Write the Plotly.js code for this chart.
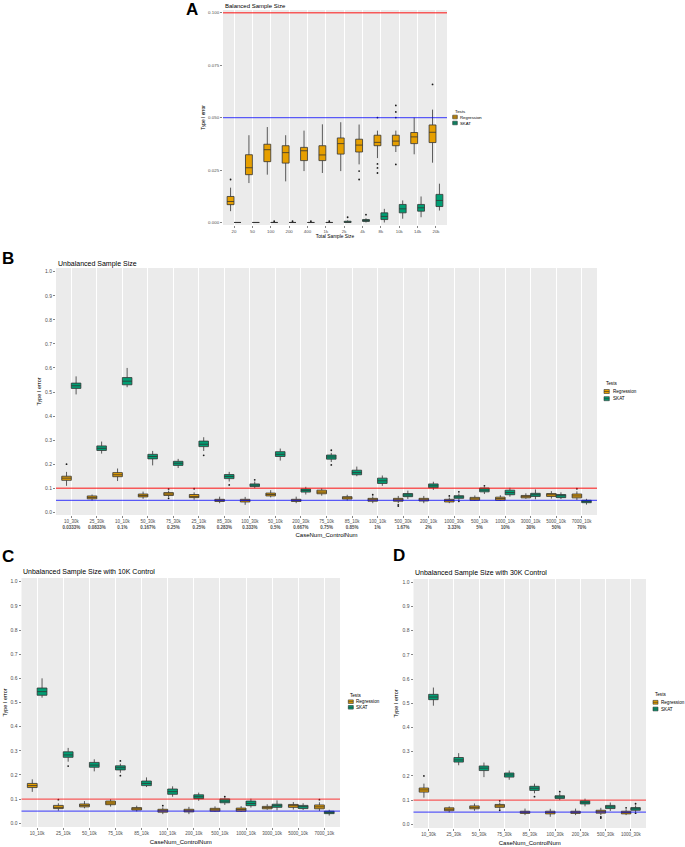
<!DOCTYPE html>
<html><head><meta charset="utf-8">
<script src="https://cdn.plot.ly/plotly-3.0.1.min.js"></script>
<style>html,body{margin:0;padding:0;background:#fff}</style>
</head><body><div id="chart" style="width:685px;height:847px"></div>
<script>
// ---------------- DATA ----------------
// Panel A: Balanced sample size
const aCats = ['20','50','100','200','400','1k','2k','4k','8k','10k','14k','20k'];
const aRegQ1  = [0.0085,0.0228,0.0290,0.0283,0.0295,0.0295,0.0326,0.0336,0.0366,0.0366,0.0376,0.0381];
const aRegMed = [0.0100,0.0261,0.0347,0.0333,0.0342,0.0322,0.0376,0.0369,0.0382,0.0388,0.0408,0.0430];
const aRegQ3  = [0.0124,0.0323,0.0373,0.0366,0.0358,0.0366,0.0403,0.0397,0.0416,0.0416,0.0429,0.0465];
const aRegLo  = [0.0054,0.0188,0.0228,0.0196,0.0245,0.0236,0.0245,0.0277,0.0307,0.0336,0.0325,0.0285];
const aRegHi  = [0.0166,0.0416,0.0455,0.0416,0.0438,0.0468,0.0478,0.0467,0.0438,0.0438,0.0500,0.0538];
const aRegOut = [[0.0205],[],[],[],[],[],[],[0.0245,0.0205],[0.0500,0.0279,0.0260,0.0236],[0.0558,0.0527,0.0500,0.0277],[],[0.0658]];
const aSkQ1   = [0,0,0,0,0,0,0,0.0005,0.0014,0.0046,0.0054,0.0076];
const aSkMed  = [0,0,0,0,0,0,0.0002,0.0010,0.0029,0.0065,0.0070,0.0105];
const aSkQ3   = [0,0,0,0,0,0,0.0006,0.0014,0.0046,0.0086,0.0086,0.0134];
const aSkLo   = [0,0,0,0,0,0,0,0,0,0.0018,0.0025,0.0057];
const aSkHi   = [0,0,0,0,0,0,0.0010,0.0020,0.0065,0.0105,0.0124,0.0185];
const aSkOut  = [[],[],[0.0006],[0.0006],[0.0006],[0.0006],[0.0025],[0.0037],[],[],[],[]];
const aTicks  = [0,0.025,0.05,0.075,0.1];
const aTickText = ['0.000','0.025','0.050','0.075','0.100'];

// Panel C: 10K controls
const cCats = ['10_10k','25_10k','50_10k','75_10k','85_10k','100_10k','200_10k','500_10k','1000_10k','3000_10k','5000_10k','7000_10k'];
const cRegQ1  = [0.148,0.061,0.068,0.077,0.055,0.046,0.047,0.050,0.050,0.060,0.066,0.060];
const cRegMed = [0.156,0.066,0.074,0.084,0.060,0.052,0.052,0.056,0.057,0.065,0.073,0.068];
const cRegQ3  = [0.165,0.074,0.080,0.092,0.065,0.058,0.058,0.062,0.063,0.070,0.078,0.076];
const cRegLo  = [0.130,0.052,0.062,0.069,0.049,0.038,0.038,0.048,0.047,0.056,0.057,0.051];
const cRegHi  = [0.182,0.083,0.092,0.100,0.073,0.066,0.068,0.070,0.071,0.079,0.088,0.087];
const cRegOut = [[],[0.098],[],[],[],[0.073],[],[],[],[],[],[0.098]];
const cSkQ1   = [0.530,0.273,0.232,0.221,0.156,0.120,0.102,0.085,0.073,0.066,0.061,0.040];
const cSkMed  = [0.545,0.283,0.241,0.230,0.165,0.131,0.110,0.092,0.082,0.073,0.069,0.045];
const cSkQ3   = [0.560,0.296,0.252,0.238,0.175,0.142,0.118,0.101,0.092,0.079,0.074,0.050];
const cSkLo   = [0.520,0.255,0.215,0.209,0.150,0.110,0.093,0.076,0.065,0.054,0.055,0.032];
const cSkHi   = [0.600,0.312,0.265,0.247,0.190,0.153,0.127,0.103,0.102,0.095,0.083,0.056];
const cSkOut  = [[],[0.237],[],[0.258,0.197],[],[],[],[0.110],[],[],[],[]];

// Panel D: 30K controls
const dCats = ['10_30k','25_30k','50_30k','75_30k','85_30k','100_30k','200_30k','500_30k','1000_30k'];
const dRegQ1  = [0.133,0.056,0.064,0.070,0.045,0.043,0.045,0.046,0.043];
const dRegMed = [0.142,0.062,0.070,0.076,0.050,0.049,0.050,0.052,0.049];
const dRegQ3  = [0.150,0.068,0.076,0.082,0.054,0.054,0.054,0.058,0.054];
const dRegLo  = [0.110,0.049,0.056,0.062,0.038,0.031,0.038,0.038,0.038];
const dRegHi  = [0.168,0.074,0.086,0.090,0.065,0.064,0.065,0.068,0.062];
const dRegOut = [[0.200],[],[],[0.097,0.058],[],[],[],[0.031,0.026],[0.068]];
const dSkQ1   = [0.515,0.257,0.222,0.195,0.140,0.107,0.084,0.065,0.058];
const dSkMed  = [0.526,0.266,0.232,0.204,0.149,0.113,0.091,0.072,0.064];
const dSkQ3   = [0.537,0.276,0.241,0.212,0.157,0.118,0.097,0.078,0.069];
const dSkLo   = [0.490,0.244,0.195,0.184,0.128,0.100,0.074,0.055,0.050];
const dSkHi   = [0.565,0.294,0.255,0.222,0.168,0.128,0.106,0.090,0.078];
const dSkOut  = [[],[],[],[],[0.114],[0.135],[],[],[0.085,0.046]];

// Panel B: all unbalanced designs, ordered by case proportion
const bCats = ['10_30k','25_30k','10_10k','50_30k','75_30k','25_10k','85_30k','100_30k','50_10k','200_30k','75_10k','85_10k','100_10k','500_30k','200_10k','1000_30k','500_10k','1000_10k','3000_10k','5000_10k','7000_10k'];
const bPct  = ['0.0333%','0.0833%','0.1%','0.167%','0.25%','0.25%','0.283%','0.333%','0.5%','0.667%','0.75%','0.85%','1%','1.67%','2%','3.33%','5%','10%','30%','50%','70%'];

const refLineValues = [0.1, 0.05];
const seriesNames = ['Regression','SKAT'];

// ---------------- STYLE / LAYOUT ----------------
const W = 685, H = 847;
const px = v => v / W;
const py = v => 1 - v / H;
const FONT = 'Liberation Sans, Arial, Helvetica, sans-serif';
const COLORS = {Regression: '#E69F00', SKAT: '#009E73'};
const refColors = ['rgba(255,0,0,0.62)', 'rgba(0,0,255,0.62)'];

function boxTrace(panel, name, cats, q1, med, q3, lo, hi, out, xa, ya) {
  return {
    type: 'box', name: name, orientation: 'v',
    x: cats, y: out.map(a => a.length ? a : [null]),
    q1: q1, median: med, q3: q3, lowerfence: lo, upperfence: hi,
    boxpoints: 'outliers', pointpos: 0, jitter: 0,
    xaxis: xa, yaxis: ya, alignmentgroup: panel, offsetgroup: panel + name,
    fillcolor: COLORS[name], line: {color: '#333333', width: 0.8}, whiskerwidth: 0,
    marker: {color: '#1a1a1a', size: 1.8, outliercolor: '#1a1a1a', line: {width: 0}},
    showlegend: false, hoverinfo: 'skip'
  };
}

// build panel B from C and D stats
function lookup(cat) {
  let i = cCats.indexOf(cat);
  if (i >= 0) return {s: 'c', i};
  return {s: 'd', i: dCats.indexOf(cat)};
}
const src = {
  c: {rq1: cRegQ1, rmed: cRegMed, rq3: cRegQ3, rlo: cRegLo, rhi: cRegHi, rout: cRegOut,
      sq1: cSkQ1, smed: cSkMed, sq3: cSkQ3, slo: cSkLo, shi: cSkHi, sout: cSkOut},
  d: {rq1: dRegQ1, rmed: dRegMed, rq3: dRegQ3, rlo: dRegLo, rhi: dRegHi, rout: dRegOut,
      sq1: dSkQ1, smed: dSkMed, sq3: dSkQ3, slo: dSkLo, shi: dSkHi, sout: dSkOut}
};
const bStat = key => bCats.map(c => { const l = lookup(c); return src[l.s][key][l.i]; });

const data = [
  boxTrace('A', 'Regression', aCats, aRegQ1, aRegMed, aRegQ3, aRegLo, aRegHi, aRegOut, 'x', 'y'),
  boxTrace('A', 'SKAT', aCats, aSkQ1, aSkMed, aSkQ3, aSkLo, aSkHi, aSkOut, 'x', 'y'),
  boxTrace('B', 'Regression', bCats, bStat('rq1'), bStat('rmed'), bStat('rq3'), bStat('rlo'), bStat('rhi'), bStat('rout'), 'x2', 'y2'),
  boxTrace('B', 'SKAT', bCats, bStat('sq1'), bStat('smed'), bStat('sq3'), bStat('slo'), bStat('shi'), bStat('sout'), 'x2', 'y2'),
  boxTrace('C', 'Regression', cCats, cRegQ1, cRegMed, cRegQ3, cRegLo, cRegHi, cRegOut, 'x3', 'y3'),
  boxTrace('C', 'SKAT', cCats, cSkQ1, cSkMed, cSkQ3, cSkLo, cSkHi, cSkOut, 'x3', 'y3'),
  boxTrace('D', 'Regression', dCats, dRegQ1, dRegMed, dRegQ3, dRegLo, dRegHi, dRegOut, 'x4', 'y4'),
  boxTrace('D', 'SKAT', dCats, dSkQ1, dSkMed, dSkQ3, dSkLo, dSkHi, dSkOut, 'x4', 'y4')
];

function xAx(d0, d1, anchor, cats, ticktext, title, tsize, titleSize, standoff) {
  return {
    domain: [px(d0), px(d1)], anchor: anchor, type: 'category',
    categoryorder: 'array', categoryarray: cats, tickvals: cats, ticktext: ticktext,
    range: [-0.6, cats.length - 0.4], automargin: false, fixedrange: true,
    showgrid: true, gridcolor: '#ffffff', gridwidth: 1, zeroline: false, showline: false,
    ticks: 'outside', ticklen: 2, tickwidth: 0.6, tickcolor: '#333333',
    tickfont: {family: FONT, size: tsize, color: '#4d4d4d'},
    title: {text: title, font: {family: FONT, size: titleSize, color: '#000'}, standoff: standoff}
  };
}
function yAx(t0, t1, anchor, range, tickvals, ticktext, tsize, titleSize, standoff) {
  return {
    domain: [py(t1), py(t0)], anchor: anchor, range: range, automargin: false, fixedrange: true,
    tickvals: tickvals, ticktext: ticktext,
    showgrid: false, zeroline: false, showline: false,
    ticks: 'outside', ticklen: 2, tickwidth: 0.6, tickcolor: '#333333',
    tickfont: {family: FONT, size: tsize, color: '#4d4d4d'},
    title: {text: 'Type I error', font: {family: FONT, size: titleSize, color: '#000'}, standoff: standoff}
  };
}
const unitTicks = [0,0.1,0.2,0.3,0.4,0.5,0.6,0.7,0.8,0.9,1.0];
const unitText = unitTicks.map(v => v.toFixed(1));

const layout = {
  width: W, height: H, autosize: false,
  margin: {l: 0, r: 0, t: 0, b: 0},
  paper_bgcolor: '#ffffff', plot_bgcolor: '#ebebeb',
  boxmode: 'group', boxgap: 0.25, boxgroupgap: 0,
  showlegend: false,
  font: {family: FONT},
  xaxis:  xAx(223, 447, 'y', aCats, aCats, 'Total Sample Size', 4.4, 4.8, 1),
  yaxis:  yAx(10, 225, 'x', [-0.0012, 0.1013], aTicks, aTickText, 4.4, 4.8, 2),
  xaxis2: xAx(56, 597, 'y2', bCats, bCats.map((c, i) => c + '<br><b>' + bPct[i] + '</b>'), 'CaseNum_ControlNum', 4.5, 6, 3),
  yaxis2: yAx(268, 515, 'x2', [-0.0112, 1.0154], unitTicks, unitText, 5, 5.5, 3),
  xaxis3: xAx(21.5, 340, 'y3', cCats, cCats, 'CaseNum_ControlNum', 4.5, 6, 4),
  yaxis3: yAx(578, 827, 'x3', [-0.0153, 1.0153], unitTicks, unitText, 5, 5.5, 2),
  xaxis4: xAx(413.5, 646, 'y4', dCats, dCats, 'CaseNum_ControlNum', 4.5, 6, 4),
  yaxis4: yAx(579, 828, 'x4', [-0.0153, 1.0136], unitTicks, unitText, 5, 5.5, 3),
  shapes: [], annotations: []
};

// reference lines
['', '2', '3', '4'].forEach(s => {
  refLineValues.forEach((v, k) => {
    layout.shapes.push({type: 'line', xref: 'x' + s + ' domain', yref: 'y' + s, x0: 0, x1: 1, y0: v, y1: v,
      line: {color: refColors[k], width: 1.3}, layer: 'above'});
  });
});

// panel letters and titles
function ann(text, x, y, size, opts) {
  layout.annotations.push(Object.assign({text: text, xref: 'paper', yref: 'paper', x: px(x), y: py(y),
    xanchor: 'left', yanchor: 'middle', showarrow: false,
    font: {family: FONT, size: size, color: '#000'}}, opts || {}));
}
ann('<b>A</b>', 184, 9, 17);
ann('<b>B</b>', 0, 258, 17);
ann('<b>C</b>', 0, 556, 17);
ann('<b>D</b>', 391, 555.5, 17);
ann('Balanced Sample Size', 223, 5.7, 6);
ann('Unbalanced Sample Size', 56, 264.3, 7);
ann('Unbalanced Sample Size with 10K Control', 20.5, 572.3, 7);
ann('Unbalanced Sample Size with 30K Control', 413, 573, 7);

// custom compact legends (ggplot style)
function legend(x0, yTitle, yItems, kw, kh, fs) {
  ann('Tests', x0, yTitle, fs);
  seriesNames.forEach((n, k) => {
    const yc = yItems[k];
    layout.shapes.push({type: 'rect', xref: 'paper', yref: 'paper',
      x0: px(x0), x1: px(x0 + kw), y0: py(yc + kh / 2), y1: py(yc - kh / 2),
      fillcolor: COLORS[n], line: {color: '#333333', width: 0.6}});
    layout.shapes.push({type: 'line', xref: 'paper', yref: 'paper',
      x0: px(x0), x1: px(x0 + kw), y0: py(yc), y1: py(yc), line: {color: '#333333', width: 0.6}});
    ann(n, x0 + kw + 1.2, yc, fs);
  });
}
legend(452.7, 111.7, [117, 123], 4.6, 3.6, 4.3);
legend(604, 384, [391.5, 398.7], 5.3, 4, 4.6);
legend(348.3, 695, [701.7, 707.3], 5, 3.6, 4.6);
legend(653, 694, [702.3, 709], 5, 3.8, 4.6);

Plotly.newPlot('chart', data, layout, {staticPlot: true, displayModeBar: false});
</script>
</body></html>
